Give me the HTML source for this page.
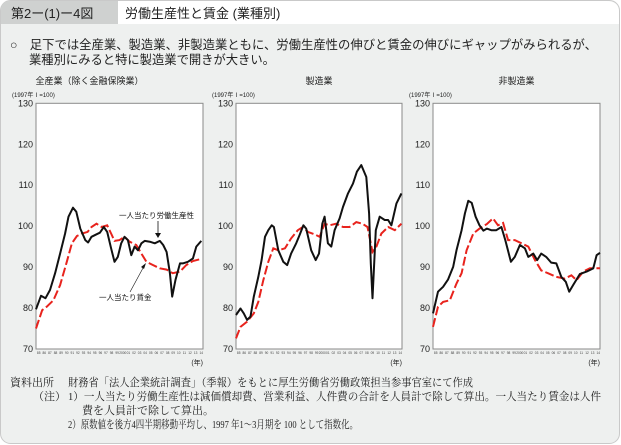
<!DOCTYPE html>
<html><head><meta charset="utf-8"><style>
html,body{margin:0;padding:0;background:#fff;}
svg{display:block;}
.s{font-family:"Liberation Sans","Noto Sans CJK JP",sans-serif;}
.m{font-family:"Liberation Serif","Noto Serif CJK SC",serif;}
</style></head><body>
<svg id="fig" width="621" height="445" viewBox="0 0 621 445" xmlns="http://www.w3.org/2000/svg">
<rect x="0.5" y="0.5" width="619" height="443" rx="10" fill="#eef0ef" stroke="#c9c9c9"/>
<path d="M118 1 H606 Q619 1 619 12 V24 H118 Z" fill="#ffffff"/>
<path d="M10 1 H118 V24 H1 V10 Q1 1 10 1 Z" fill="#cfd1d0"/>
<text class="s" x="11" y="18" font-size="13" fill="#222">第2ー(1)ー4図</text>
<text class="s" x="125" y="18" font-size="13" fill="#222">労働生産性と賃金 (業種別)</text>
<text class="s" x="10" y="49" font-size="12.3" fill="#222" textLength="587" lengthAdjust="spacingAndGlyphs">○　足下では全産業、製造業、非製造業ともに、労働生産性の伸びと賃金の伸びにギャップがみられるが、</text>
<text class="s" x="29" y="64" font-size="12.3" fill="#222">業種別にみると特に製造業で開きが大きい。</text>
<g id="charts"></g>
<text class="m" x="10" y="386" font-size="11" fill="#222">資料出所</text>
<text class="m" x="68" y="386" font-size="11" fill="#222" textLength="405" lengthAdjust="spacingAndGlyphs">財務省「法人企業統計調査」（季報）をもとに厚生労働省労働政策担当参事官室にて作成</text>
<text class="m" x="33" y="400" font-size="11" fill="#222">（注）</text>
<text class="m" x="68" y="400" font-size="11" fill="#222" textLength="533" lengthAdjust="spacingAndGlyphs">1）一人当たり労働生産性は減価償却費、営業利益、人件費の合計を人員計で除して算出。一人当たり賃金は人件</text>
<text class="m" x="82" y="414" font-size="11" fill="#222">費を人員計で除して算出。</text>
<text class="m" x="68" y="428" font-size="11" fill="#222" textLength="290" lengthAdjust="spacingAndGlyphs">2）原数値を後方4四半期移動平均し、1997 年1～3月期を 100 として指数化。</text>
</svg>
<script>
const yTicks=[70,80,90,100,110,120,130];
const xLabels=["85","86","87","88","89","90","91","92","93","94","95","96","97","98","99","2000","01","02","03","04","05","06","07","08","09","10","11","12","13","14"];
const titles=["全産業（除く金融保険業）","製造業","非製造業"];
const allProdYears=[1985,1985.9,1986.7,1987.5,1988.4,1989.3,1990.2,1990.8,1991.6,1992.2,1992.9,1993.8,1994.3,1994.9,1995.8,1996.4,1997.1,1997.7,1998.4,1999,1999.6,2000.2,2000.8,2001.4,2002,2002.6,2003.2,2003.8,2004.4,2005.3,2006.2,2007.1,2007.7,2008.3,2008.9,2009.3,2009.9,2010.7,2011.2,2012.1,2013,2013.6,2014.5];
const allProdValues=[79.7,83,82.4,84.4,88.5,93.3,98.2,102.3,104.5,103.5,99.4,96.6,96,97.4,98,98.4,99.8,98.6,94.6,91.3,92.5,95.8,97.4,96.6,92.9,95,94.1,95.8,96.4,96.2,95.8,96.4,95.4,93.7,88.5,82.8,86.9,90.9,90.9,91.3,92.1,95,96.4];
const allWageYears=[1985,1986.1,1986.9,1988.1,1989.3,1990.5,1991.4,1992.3,1993.2,1994.2,1994.9,1995.8,1996.7,1997.7,1998.4,1999,1999.9,2000.8,2001.7,2002.9,2003.8,2004.7,2005.9,2007.1,2008.3,2009.4,2010.7,2011.8,2013,2014.5];
const allWageValues=[75,79.5,80.3,81.9,85.6,91.3,95.8,97.6,98.2,98.6,99.8,100.6,99.8,100.2,98.2,96.4,96.6,97.4,96.2,95.4,93.3,91.3,90.5,89.7,89.4,88.5,88.9,90.5,91.5,92];
const mfgProdYears=[1985,1985.8,1986.4,1987,1987.6,1988.2,1989,1989.6,1990.2,1990.8,1991.4,1991.8,1992.6,1993.5,1994.2,1994.9,1995.8,1996.4,1997.1,1997.6,1998.5,1999.3,1999.9,2000.5,2000.9,2001.5,2002.1,2002.7,2003.6,2004.2,2005.1,2006,2006.7,2007.5,2008.4,2008.9,2009.2,2009.5,2010.1,2010.8,2011.7,2012.3,2012.9,2013.8,2014.7];
const mfgProdValues=[78.3,79.9,78.7,77.1,77.9,82.8,87.6,91.7,97.4,99,100.2,99.8,94.1,91.3,90.5,93.3,95.8,97.8,100.2,99.4,94.1,91.7,93.3,100.6,102.3,95.8,95,99,101.9,104.7,108,110.4,113.3,114.9,112,103.1,90.9,82.4,99,102.3,101.5,101.5,100.2,105.5,108];
const mfgWageYears=[1985,1985.8,1987,1988.2,1989,1989.9,1990.8,1991.7,1992.6,1993.8,1994.9,1996.1,1997,1997.9,1999.1,2000,2000.9,2001.8,2003,2004.2,2005.4,2006.6,2007.7,2008.6,2009.5,2010.2,2011.1,2012.3,2013.5,2014.7];
const mfgWageValues=[72.6,75.4,76.7,78.7,81.5,86.8,91.3,94.6,94.1,94.6,97,99,99.8,98.6,98,97.4,100.6,100.2,100.6,99.8,99.8,101,100.6,99.8,93.7,95,98.2,99.8,99,100.6];
const nonProdYears=[1985,1985.9,1986.8,1987.7,1988.6,1989.2,1990.1,1990.7,1991.3,1991.9,1992.6,1993.3,1994,1994.6,1995.4,1996.3,1997.2,1997.9,1998.9,1999.6,2000.5,2001.4,2002,2002.9,2003.6,2004.3,2005.2,2006.1,2007,2007.9,2008.7,2009.3,2010,2011.2,2012.4,2013.6,2014.2,2014.8];
const nonProdValues=[78.7,84,85.2,87,90.1,94.1,99,103.1,106.2,105.7,102.3,100.2,98.9,99.4,99,99,99.8,96.6,91.3,92.5,95.4,94.6,92.5,93.3,91.7,93.3,92.5,91.1,90.9,87.6,86.4,84,85.6,88.3,88.9,89.7,92.9,93.5];
const nonWageYears=[1985,1985.9,1986.8,1988,1989.2,1990.1,1991,1992.2,1993.3,1994.6,1995.7,1996.6,1997.5,1998.4,1999.6,2000.8,2002,2003.2,2004.3,2005.5,2007,2008.5,2009.7,2010.6,2011.8,2013,2014.8];
const nonWageValues=[75.4,80.3,81.5,81.9,86,88.5,94.1,98.2,99.4,100.5,101.9,100.2,100.8,96.6,96.6,95.8,95,91.7,89.2,88.5,87.6,87.2,88,86.8,88.9,89.7,89.7];

const NS="http://www.w3.org/2000/svg";
const root=document.getElementById('charts');
const panels=[{x0:36,x1:203},{x0:236,x1:402},{x0:433,x1:600}];
const series=[[allProdYears,allProdValues,allWageYears,allWageValues],[mfgProdYears,mfgProdValues,mfgWageYears,mfgWageValues],[nonProdYears,nonProdValues,nonWageYears,nonWageValues]];
const Y0=103.3,Y1=349,XMIN=1985,XMAX=2014.8;
function mk(tag,attrs,parent,text){const e=document.createElementNS(NS,tag);for(const k in attrs)e.setAttribute(k,attrs[k]);if(text!==undefined)e.textContent=text;parent.appendChild(e);return e;}
panels.forEach((p,i)=>{
  const g=mk('g',{},root);
  
  
  const xs=v=>p.x0+(v-XMIN)/(XMAX-XMIN)*(p.x1-p.x0);
  const ys=v=>Y1-(v-70)/60*(Y1-Y0);
  const t=mk('text',{x:(p.x0+p.x1)/2-(i==0?30:0),y:84,'font-size':9,'text-anchor':'middle',class:'s',fill:'#222'},g,titles[i]);
  
  
  const u=mk('text',{x:p.x0-24,y:97,'font-size':6,class:'s',fill:'#222'},g,'(1997年Ⅰ=100)');
  
  
  const r=mk('rect',{x:p.x0,y:Y0,width:p.x1-p.x0,height:Y1-Y0,fill:'#fff',stroke:'#8a8a8a','stroke-width':1},g);
  
  
  yTicks.forEach(v=>{const tt=mk('text',{x:p.x0-3,y:ys(v)+3,'font-size':9,'text-anchor':'end',class:'s',fill:'#222'},g,v);
    
    });
  xLabels.forEach((l,k)=>{const tt=mk('text',{x:xs(1985+k)+2.7,y:354,'font-size':3.2,'text-anchor':'middle',class:'s',fill:'#444'},g,l);
    
    });
  const yr=mk('text',{x:p.x1,y:365,'font-size':7,'text-anchor':'end',class:'s',fill:'#222'},g,'(年)');
  
  
  const [py,pv,wy,wv]=series[i];
  const w=mk('polyline',{points:wy.map((y,k)=>xs(y).toFixed(1)+','+ys(wv[k]).toFixed(1)).join(' '),fill:'none',stroke:'#e8231d','stroke-width':2,'stroke-dasharray':'9,3'},g);
  
  
  const pl=mk('polyline',{points:py.map((y,k)=>xs(y).toFixed(1)+','+ys(pv[k]).toFixed(1)).join(' '),fill:'none',stroke:'#111','stroke-width':2,'stroke-linejoin':'round'},g);
  
  
});
const a=document.createElementNS(NS,'g');root.appendChild(a);


a.innerHTML='<text class="s" x="119" y="218" font-size="7.5" fill="#111">一人当たり労働生産性</text>'+
'<line x1="158" y1="221" x2="158" y2="233" stroke="#111" stroke-width="0.8"/><path d="M155 233 L161 233 L158 238 Z" fill="#111"/>'+
'<text class="s" x="99" y="300" font-size="7.5" fill="#111">一人当たり賃金</text>'+
'<line x1="130" y1="292" x2="143" y2="268" stroke="#111" stroke-width="0.6"/><path d="M146 263 L141 267 L144 269 Z" fill="#111"/>';
</script>
</body></html>
